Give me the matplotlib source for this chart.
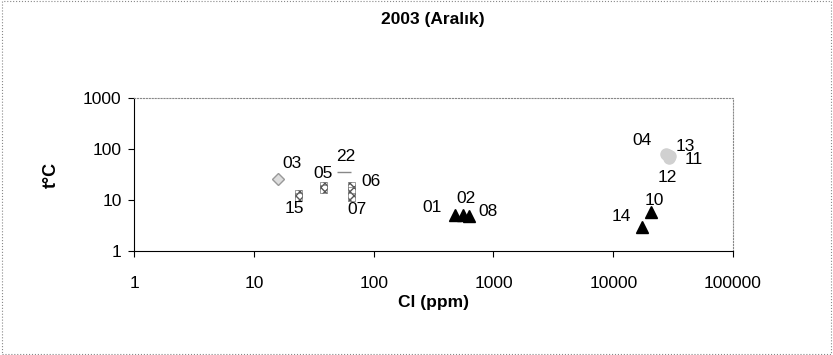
import matplotlib.pyplot as plt

plt.rcParams['font.family'] = ['Liberation Sans', 'DejaVu Sans']

# black triangles
tri_names = ['01', '02', '08', '14', '10']
tri_cl = [480, 560, 620, 17500, 20500]
tri_t = [5.0, 5.0, 4.9, 2.9, 5.8]

# hatched squares
sq_names = ['15', '', '05', '', '06', '', '07']
sq_cl = [23.7, 23.7, 38, 38, 65, 65, 65]
sq_t = [13.5, 11.5, 19.0, 16.5, 19.5, 15.5, 11.5]

# grey circles
ci_names = ['04', '13', '11', '12']
ci_cl = [27500, 30000, 29000, 28500]
ci_t = [80, 72, 66, 76]

# diamond and dash
dia_cl, dia_t = [15.8], [25.5]
dash_cl, dash_t = [57], [35]

# label offsets in points
offsets = {
    '01': (-17, 6), '02': (2, 12), '08': (14, 3), '14': (-15, 8), '10': (3, 8),
    '15': (-3, -11), '05': (0, 9), '06': (14, 3), '07': (4, -9),
    '04': (-17, 10), '13': (11, 7), '11': (18, -1), '12': (0, -16),
    '03': (10, 11), '22': (1, 11),
}

fig = plt.figure(figsize=(8.33, 3.55), dpi=100)
fig.patches.append(plt.Rectangle((0.002, 0.003), 0.995, 0.993, transform=fig.transFigure,
                                 fill=False, edgecolor='#888888', linewidth=0.8, linestyle=':'))
ax = fig.add_axes([0.161, 0.293, 0.719, 0.431])

ax.plot(tri_cl, tri_t, linestyle='none', marker='^', color='black', markersize=9)
ax.scatter(sq_cl, sq_t, marker='s', s=28, facecolor='white', edgecolor='#555555',
           hatch='xxxx', linewidth=0.4, zorder=3)
ax.plot(ci_cl, ci_t, linestyle='none', marker='o', color='#d0d0d0', markersize=8)
ax.plot(dia_cl, dia_t, linestyle='none', marker='D', markerfacecolor='#dddddd',
        markeredgecolor='#999999', markersize=6)
ax.plot(dash_cl, dash_t, linestyle='none', marker='_', color='#888888', markersize=10)

def label(names, xs, ys):
    for n, x, y in zip(names, xs, ys):
        if n:
            ax.annotate(n, (x, y), xytext=offsets[n], textcoords='offset points',
                        ha='center', va='center', fontsize=12.5)

label(tri_names, tri_cl, tri_t)
label(sq_names, sq_cl, sq_t)
label(ci_names, ci_cl, ci_t)
label(['03'], dia_cl, dia_t)
label(['22'], dash_cl, dash_t)

ax.set_xscale('log')
ax.set_yscale('log')
ax.set_xlim(1, 100000)
ax.set_ylim(1, 1000)
ax.set_xticks([1, 10, 100, 1000, 10000, 100000])
ax.set_xticklabels(['1', '10', '100', '1000', '10000', '100000'])
ax.set_yticks([1, 10, 100, 1000])
ax.set_yticklabels(['1', '10', '100', '1000'])
ax.minorticks_off()
ax.tick_params(labelsize=12.5, length=4, width=0.8, pad=14)
ax.tick_params(axis='y', pad=5)

for s in ['top', 'right']:
    ax.spines[s].set_color('#888888')
    ax.spines[s].set_linestyle(':')
    ax.spines[s].set_linewidth(0.8)

ax.set_xlabel('Cl (ppm)', fontsize=12.5, fontweight='bold', labelpad=3)
ax.set_ylabel('t°C', fontsize=13, fontweight='bold', labelpad=17)
fig.text(0.52, 0.945, '2003 (Aralık)', ha='center', va='center', fontsize=12.5, fontweight='bold')

fig.savefig('out.png', dpi=100)
